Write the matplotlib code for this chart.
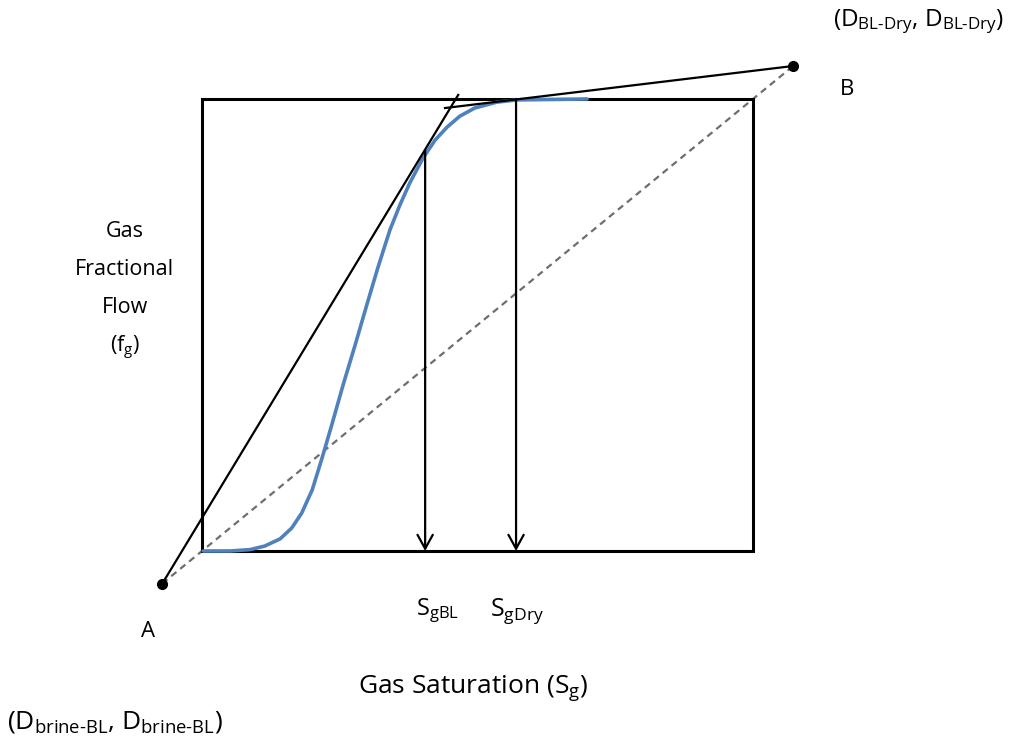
import matplotlib
matplotlib.use("Agg")
import matplotlib.pyplot as plt

plt.rcParams['font.family'] = ['Open Sans', 'DejaVu Sans']
plt.rcParams['mathtext.fontset'] = 'custom'
plt.rcParams['mathtext.rm'] = 'Open Sans'
plt.rcParams['mathtext.it'] = 'Open Sans'

# Fractional flow curve (gas saturation vs gas fractional flow)
sg = [0.002, 0.051, 0.087, 0.114, 0.142, 0.163, 0.181, 0.200, 0.218, 0.236,
      0.256, 0.278, 0.299, 0.319, 0.341, 0.359, 0.377, 0.401, 0.423, 0.445,
      0.468, 0.495, 0.535, 0.572, 0.699]
fg = [0.0, 0.0, 0.003, 0.011, 0.027, 0.051, 0.084, 0.135, 0.206, 0.281,
      0.367, 0.456, 0.544, 0.626, 0.710, 0.765, 0.814, 0.869, 0.909, 0.938,
      0.962, 0.980, 0.993, 0.998, 1.0]

point_A = (-0.072, -0.072)
point_B = (1.073, 1.073)
sg_bl, fg_bl = 0.405, 0.887
sg_dry, fg_dry = 0.570, 1.0
tangent_A_end = (0.465, 1.009)
tangent_B_end = (0.441, 0.980)

fig = plt.figure(figsize=(10.19, 7.44), dpi=100)
ax = fig.add_axes([0, 0, 1, 1])
ax.set_xlim(-0.3666, 1.4828)
ax.set_ylim(-0.427, 1.219)
ax.axis('off')

# box
ax.plot([0, 1, 1, 0, 0], [0, 0, 1, 1, 0], color='black', lw=2.2, solid_joinstyle='miter', zorder=2)

# dashed diagonal A-B
ax.plot([point_A[0], point_B[0]], [point_A[1], point_B[1]], color='#6e6e6e', lw=1.6,
        dashes=(3, 2.2), zorder=1)

# curve
ax.plot(sg, fg, color='#4f81bd', lw=2.6, solid_capstyle='round', solid_joinstyle='round', zorder=3)

# tangent lines
ax.plot([point_A[0], tangent_A_end[0]], [point_A[1], tangent_A_end[1]], color='black', lw=1.6, zorder=4)
ax.plot([point_B[0], tangent_B_end[0]], [point_B[1], tangent_B_end[1]], color='black', lw=1.6, zorder=4)

# points
ax.plot([point_A[0], point_B[0]], [point_A[1], point_B[1]], 'o', color='black', ms=7, zorder=5)

# arrows
for x0, y0 in [(sg_bl, fg_bl), (sg_dry, fg_dry)]:
    ax.annotate('', xy=(x0, 0), xytext=(x0, y0),
                arrowprops=dict(arrowstyle='->,head_length=1.0,head_width=0.55', color='black', lw=1.6,
                                shrinkA=0, shrinkB=0), zorder=4)

ax.text(-0.098, -0.179, 'A', fontsize=16, ha='center', va='center')
ax.text(1.171, 1.022, 'B', fontsize=16, ha='center', va='center')
ax.text(1.301, 1.170, r'($\mathregular{D_{BL\text{-}Dry}}$, $\mathregular{D_{BL\text{-}Dry}}$)', fontsize=17.5,
        ha='center', va='center')
ax.text(-0.158, -0.378, r'($\mathregular{D_{brine\text{-}BL}}$, $\mathregular{D_{brine\text{-}BL}}$)', fontsize=19,
        ha='center', va='center')
ax.text(0.428, -0.133, r'$\mathregular{S_{gBL}}$', fontsize=17, ha='center', va='center')
ax.text(0.572, -0.133, r'$\mathregular{S_{gDry}}$', fontsize=18, ha='center', va='center')
ax.text(0.492, -0.303, r'Gas Saturation ($\mathregular{S_g}$)', fontsize=19, ha='center', va='center')

ylabel_lines = ['Gas', 'Fractional', 'Flow', r'($\mathregular{f_g}$)']
ylabel_y = [0.706, 0.622, 0.538, 0.449]
for t, y in zip(ylabel_lines, ylabel_y):
    ax.text(-0.140, y, t, fontsize=15.5, ha='center', va='center')

fig.savefig('out.png', dpi=100)
